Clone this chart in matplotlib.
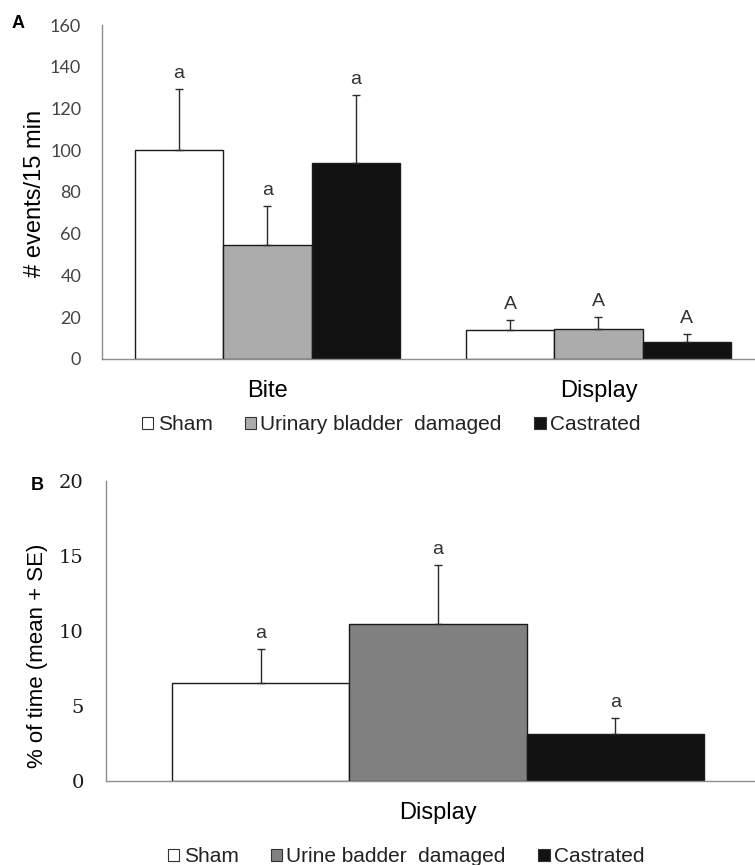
#!/usr/bin/env python3

import matplotlib
matplotlib.use('Agg')
import matplotlib.pyplot as plt
from matplotlib.patches import Patch
import numpy as np

plt.rcParams['font.family'] = ['Liberation Sans', 'DejaVu Sans']

# Panel A: aggressive events per 15 min
behaviours = ['Bite', 'Display']
groups_a = ['Sham', 'Urinary bladder  damaged', 'Castrated']
events_mean = {
    'Sham': [100.1, 13.9],
    'Urinary bladder  damaged': [54.6, 14.4],
    'Castrated': [93.9, 8.3],
}
events_se = {
    'Sham': [29.4, 4.8],
    'Urinary bladder  damaged': [18.7, 5.6],
    'Castrated': [32.6, 3.5],
}
letters_a = ['a', 'A']
yticks_a = [0, 20, 40, 60, 80, 100, 120, 140, 160]

# Panel B: percentage of time spent in display
groups_b = ['Sham', 'Urine badder  damaged', 'Castrated']
display_mean = [6.55, 10.46, 3.11]
display_se = [2.25, 3.91, 1.11]
letters_b = ['a', 'a', 'a']
yticks_b = [0, 5, 10, 15, 20]

colors_a = ['#ffffff', '#acacac', '#121212']
colors_b = ['#ffffff', '#808080', '#121212']
W, H = 755, 865
bar_w = 0.267


def style_axis(ax, tick_font, tick_size, tick_color, pad):
    for side in ('top', 'right'):
        ax.spines[side].set_visible(False)
    for side in ('left', 'bottom'):
        ax.spines[side].set_color('#8c8c8c')
        ax.spines[side].set_linewidth(1.0)
    ax.tick_params(axis='y', length=0, pad=pad, labelsize=tick_size,
                   labelcolor=tick_color)
    ax.tick_params(axis='x', length=0, pad=15, labelsize=17)
    for lbl in ax.get_yticklabels():
        lbl.set_family(tick_font)


def draw_bars(ax, x, heights, errs, color, letter_list):
    ax.bar(x, heights, width=bar_w, color=color, edgecolor='#1a1a1a',
           linewidth=1.0, zorder=2)
    ax.errorbar(x, heights, yerr=[np.zeros(len(errs)), errs], fmt='none',
                ecolor='#2a2a2a', elinewidth=1.0, capsize=3, capthick=1.0,
                zorder=3)
    for xi, h, e, t in zip(x, heights, errs, letter_list):
        ax.annotate(t, (xi, h + e), xytext=(0, 5), textcoords='offset points',
                    ha='center', va='bottom', fontsize=14, color='#333333')


fig = plt.figure(figsize=(W / 100, H / 100), dpi=100)

# ---- panel A
ax_a = fig.add_axes([102 / W, 1 - 359 / H, 653 / W, 334 / H])
xa = np.arange(len(behaviours))
for i, g in enumerate(groups_a):
    draw_bars(ax_a, xa + (i - 1) * bar_w, events_mean[g], events_se[g],
              colors_a[i], letters_a)
ax_a.set_xlim(-0.5, 1.473)
ax_a.set_ylim(0, 160)
ax_a.set_yticks(yticks_a)
ax_a.set_xticks(xa)
ax_a.set_xticklabels(behaviours)
style_axis(ax_a, 'Lato', 13, '#444444', 15)
fig.text(35 / W, 1 - 193 / H, '# events/15 min', rotation=90, ha='center',
         va='center', fontsize=17)
fig.text(18 / W, 1 - 24 / H, 'A', ha='center', va='center', fontsize=13,
         fontweight='bold')

handles_a = [Patch(facecolor=c, edgecolor='#333333', linewidth=0.8)
             for c in colors_a]
fig.legend(handles_a, groups_a, loc='center left',
           bbox_to_anchor=(142 / W, 1 - 425 / H), ncol=3, frameon=False,
           fontsize=15, handlelength=0.55, handleheight=0.55,
           handletextpad=0.2, columnspacing=1.55, borderpad=0,
           borderaxespad=0, labelcolor='#222222')

# ---- panel B
ax_b = fig.add_axes([106 / W, 1 - 781 / H, 649 / W, 300.3 / H])
for i in range(len(groups_b)):
    draw_bars(ax_b, [(i - 1) * bar_w], [display_mean[i]], [display_se[i]],
              colors_b[i], [letters_b[i]])
ax_b.set_xlim(-0.5, 0.4774)
ax_b.set_ylim(0, 20)
ax_b.set_yticks(yticks_b)
ax_b.set_xticks([0])
ax_b.set_xticklabels(['Display'])
style_axis(ax_b, 'DejaVu Serif', 14, '#1a1a1a', 16)
fig.text(38 / W, 1 - 656 / H, '% of time (mean + SE)', rotation=90,
         ha='center', va='center', fontsize=16)
fig.text(37.5 / W, 1 - 485 / H, 'B', ha='center', va='center', fontsize=13,
         fontweight='bold')

handles_b = [Patch(facecolor=c, edgecolor='#333333', linewidth=0.8)
             for c in colors_b]
fig.legend(handles_b, groups_b, loc='center left',
           bbox_to_anchor=(168 / W, 1 - 857 / H), ncol=3, frameon=False,
           fontsize=15, handlelength=0.55, handleheight=0.55,
           handletextpad=0.2, columnspacing=1.55, borderpad=0,
           borderaxespad=0, labelcolor='#222222')

fig.savefig('out.png', dpi=100)
